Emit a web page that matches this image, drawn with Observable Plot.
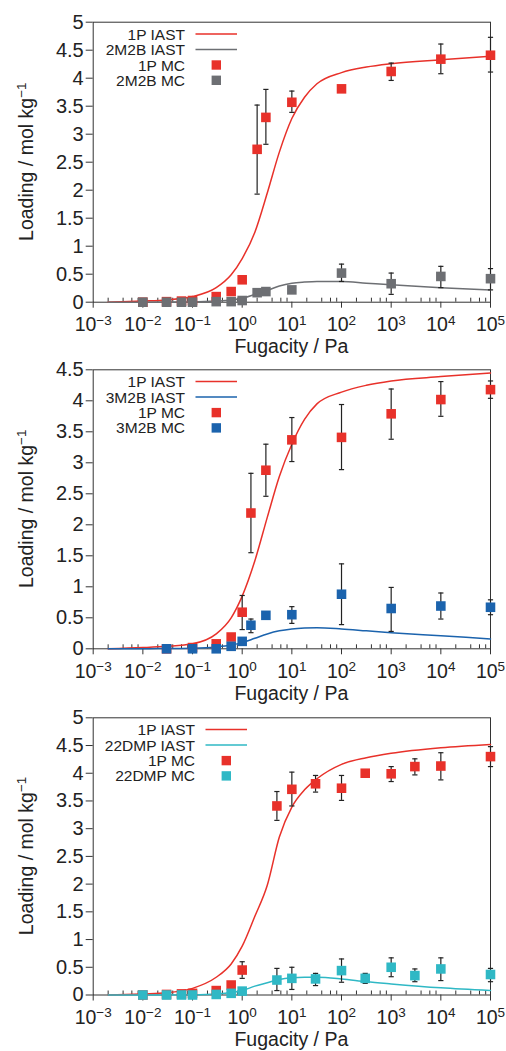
<!DOCTYPE html>
<html>
<head>
<meta charset="utf-8">
<script src="https://cdn.jsdelivr.net/npm/d3@7"></script>
<script src="https://cdn.jsdelivr.net/npm/@observablehq/plot@0.6"></script>
<style>
  html, body { margin: 0; padding: 0; background: #fff; }
  #root { width: 506px; height: 1051px; overflow: hidden; position: relative; }
  #root svg { display: block; overflow: visible; background: transparent; }
</style>
</head>
<body>
<div id="root"></div>
<script>
// ---------------- DATA ----------------
const xMajor = [1e-3, 1e-2, 1e-1, 1e0, 1e1, 1e2, 1e3, 1e4, 1e5];
const minorMultipliers = [2, 4, 6, 8];
const yTicks5 = [0, 0.5, 1, 1.5, 2, 2.5, 3, 3.5, 4, 4.5, 5];
const yTicks45 = [0, 0.5, 1, 1.5, 2, 2.5, 3, 3.5, 4, 4.5];

// IAST curve sample fugacities (Pa)
const xIAST = [0.002, 0.01, 0.03, 0.1, 0.3, 0.6, 1, 1.8, 3.2, 5.6, 10, 18, 32, 100, 316, 1000, 1e4, 1e5];

// Panel 1: 1P / 2M2B
const p1_IAST_1P   = [0.00, 0.02, 0.04, 0.10, 0.26, 0.49, 0.78, 1.25, 1.95, 2.68, 3.28, 3.66, 3.90, 4.10, 4.20, 4.26, 4.33, 4.39];
const p1_IAST_2M2B = [0.00, 0.00, 0.002, 0.005, 0.02, 0.04, 0.07, 0.14, 0.21, 0.29, 0.34, 0.36, 0.37, 0.37, 0.34, 0.31, 0.26, 0.22];
const p1_xMC       = [0.01, 0.03, 0.06, 0.1, 0.3, 0.6, 1, 2, 3, 10, 100, 1000, 1e4, 1e5];
const p1_MC_1P     = [0.00, 0.01, 0.02, 0.03, 0.10, 0.19, 0.40, 2.73, 3.30, 3.57, 3.81, 4.12, 4.34, 4.41];
const p1_MC_2M2B   = [0.00, 0.00, 0.00, 0.00, 0.01, 0.01, 0.03, 0.17, 0.19, 0.22, 0.52, 0.33, 0.46, 0.42];
const p1_err1P_x   = [2, 3, 10, 100, 1000, 1e4, 1e5];
const p1_err1P_lo  = [1.93, 2.82, 3.39, 3.76, 3.96, 4.08, 4.11];
const p1_err1P_hi  = [3.52, 3.80, 3.77, 3.86, 4.27, 4.61, 4.73];
const p1_err2_x    = [100, 1000, 1e4, 1e5];
const p1_err2_lo   = [0.37, 0.14, 0.26, 0.22];
const p1_err2_hi   = [0.68, 0.52, 0.64, 0.60];

// Panel 2: 1P / 3M2B
const p2_IAST_1P   = [0.00, 0.02, 0.04, 0.08, 0.24, 0.50, 0.85, 1.42, 2.12, 2.78, 3.30, 3.70, 3.95, 4.14, 4.25, 4.32, 4.39, 4.45];
const p2_IAST_3M2B = [0.00, 0.00, 0.005, 0.01, 0.03, 0.06, 0.10, 0.17, 0.24, 0.29, 0.32, 0.335, 0.34, 0.32, 0.29, 0.26, 0.21, 0.16];
const p2_xMC       = [0.03, 0.1, 0.3, 0.6, 1, 1.5, 3, 10, 100, 1000, 1e4, 1e5];
const p2_MC_1P     = [0.00, 0.02, 0.08, 0.19, 0.59, 2.19, 2.88, 3.37, 3.41, 3.79, 4.02, 4.18];
const p2_MC_3M2B   = [0.00, 0.00, 0.00, 0.04, 0.12, 0.38, 0.54, 0.55, 0.88, 0.65, 0.69, 0.67];
const p2_err1P_x   = [1, 1.5, 3, 10, 100, 1000, 1e4, 1e5];
const p2_err1P_lo  = [0.31, 1.55, 2.46, 3.02, 2.89, 3.38, 3.75, 4.04];
const p2_err1P_hi  = [0.86, 2.83, 3.30, 3.73, 3.94, 4.19, 4.31, 4.32];
const p2_err2_x    = [1.5, 3, 10, 100, 1000, 1e4, 1e5];
const p2_err2_lo   = [0.26, 0.49, 0.41, 0.39, 0.28, 0.48, 0.55];
const p2_err2_hi   = [0.48, 0.59, 0.68, 1.37, 0.99, 0.90, 0.79];

// Panel 3: 1P / 22DMP
const p3_IAST_1P    = [0.00, 0.02, 0.04, 0.12, 0.32, 0.56, 0.88, 1.42, 1.98, 2.85, 3.39, 3.70, 3.90, 4.16, 4.28, 4.36, 4.46, 4.52];
const p3_IAST_22DMP = [0.00, 0.00, 0.002, 0.005, 0.02, 0.045, 0.08, 0.16, 0.22, 0.28, 0.31, 0.32, 0.32, 0.29, 0.24, 0.20, 0.13, 0.08];
const p3_xMC        = [0.01, 0.03, 0.06, 0.1, 0.3, 0.6, 1, 5, 10, 30, 100, 300, 1000, 3000, 1e4, 1e5];
const p3_MC_1P      = [0.00, 0.01, 0.02, 0.03, 0.08, 0.18, 0.45, 3.41, 3.71, 3.81, 3.73, 4.00, 3.99, 4.12, 4.13, 4.30];
const p3_MC_22DMP   = [0.00, 0.00, 0.00, 0.00, 0.01, 0.03, 0.07, 0.27, 0.30, 0.29, 0.44, 0.30, 0.50, 0.35, 0.47, 0.37];
const p3_err1P_x    = [1, 5, 10, 30, 100, 300, 1000, 3000, 1e4, 1e5];
const p3_err1P_lo   = [0.30, 3.15, 3.41, 3.66, 3.51, 3.96, 3.85, 3.97, 3.88, 4.12];
const p3_err1P_hi   = [0.60, 3.67, 4.02, 3.96, 3.96, 4.04, 4.12, 4.26, 4.37, 4.48];
const p3_err2_x     = [5, 10, 30, 100, 300, 1000, 3000, 1e4, 1e5];
const p3_err2_lo    = [0.08, 0.10, 0.17, 0.23, 0.21, 0.33, 0.24, 0.26, 0.24];
const p3_err2_hi    = [0.48, 0.50, 0.39, 0.65, 0.39, 0.67, 0.47, 0.67, 0.48];

// ---------------- STYLE ----------------
const RED = "#e8312a", GRAY = "#6d6f73", BLUE = "#1b63ad", CYAN = "#2fb8c5", ERR = "#222";
const FONT = "'Liberation Sans', Arial, Helvetica, sans-serif";

const xMinor = [];
for (const d of xMajor.slice(0, -1)) for (const m of minorMultipliers) xMinor.push(d * m);

const pts = (xs, ys) => xs.map((x, i) => ({x, y: ys[i]}));
const errs = (xs, lo, hi) => xs.map((x, i) => ({x, lo: lo[i], hi: hi[i]}));
const capSymbol = { draw(ctx) { ctx.moveTo(-2.6, 0); ctx.lineTo(2.6, 0); } };

function panel(cfg) {
  const ML = 92.7, MR = 16;
  const svg = Plot.plot({
    width: 506, height: cfg.height,
    marginTop: cfg.mt, marginBottom: cfg.mb, marginLeft: ML, marginRight: MR,
    style: {fontFamily: FONT, fontSize: "19.5px", color: "#222", background: "transparent", overflow: "visible"},
    x: {type: "log", domain: [1e-3, 1e5]},
    y: {domain: [0, cfg.ymax]},
    marks: [
      Plot.axisY({ticks: cfg.yTicks, tickSize: 7, tickPadding: 2.5, label: null, stroke: "#333",
                  fontSize: 20, tickFormat: d => String(d)}),
      Plot.axisX({ticks: xMajor, tickSize: 6, tickPadding: 9, label: null, stroke: "#333",
                  tickFormat: d => `10^${Math.round(Math.log10(d))}`}),
      Plot.axisX({ticks: xMinor, tickSize: 4, dy: -4, label: null, stroke: "#333", tickFormat: () => ""}),
      Plot.frame({stroke: "#333", strokeWidth: 1}),
      Plot.line(pts(xIAST, cfg.iastA), {x: "x", y: "y", stroke: RED, strokeWidth: 1.5, curve: "monotone-x"}),
      Plot.line(pts(xIAST, cfg.iastB), {x: "x", y: "y", stroke: cfg.colorB, strokeWidth: 1.5, curve: "monotone-x"}),
      Plot.ruleX(cfg.errA, {x: "x", y1: "lo", y2: "hi", stroke: ERR, strokeWidth: 1.2}),
      Plot.dot(cfg.errA, {x: "x", y: "lo", symbol: capSymbol, r: 3, stroke: ERR, fill: "none", strokeWidth: 1.2}),
      Plot.dot(cfg.errA, {x: "x", y: "hi", symbol: capSymbol, r: 3, stroke: ERR, fill: "none", strokeWidth: 1.2}),
      Plot.dot(cfg.mcA, {x: "x", y: "y", symbol: "square", r: 5.4, fill: RED, stroke: "none"}),
      Plot.ruleX(cfg.errB, {x: "x", y1: "lo", y2: "hi", stroke: ERR, strokeWidth: 1.2}),
      Plot.dot(cfg.errB, {x: "x", y: "lo", symbol: capSymbol, r: 3, stroke: ERR, fill: "none", strokeWidth: 1.2}),
      Plot.dot(cfg.errB, {x: "x", y: "hi", symbol: capSymbol, r: 3, stroke: ERR, fill: "none", strokeWidth: 1.2}),
      Plot.dot(cfg.mcB, {x: "x", y: "y", symbol: "square", r: 5.4, fill: cfg.colorB, stroke: "none"})
    ]
  });

  const s = d3.select(svg);
  s.style("overflow", "visible").style("background", "transparent");
  // superscript exponents on x tick labels
  s.selectAll('g[aria-label="x-axis tick label"] text').each(function () {
    const t = this.textContent;
    if (!t || t.indexOf("^") < 0) return;
    const [base, exp] = t.split("^");
    const el = d3.select(this);
    el.text(base);
    el.append("tspan").attr("dy", "-0.48em").attr("font-size", "13.5px").text(exp.replace("-", "\u2212"));
  });

  const plotTop = cfg.mt, plotBottom = cfg.height - cfg.mb;
  const cx = ML + (506 - ML - MR) / 2;
  // x axis title
  s.append("text").attr("x", cx).attr("y", plotBottom + cfg.titleOffset)
    .attr("text-anchor", "middle").attr("font-family", FONT).attr("font-size", "19.5px").attr("fill", "#222")
    .text("Fugacity / Pa");
  // y axis title
  const yt = s.append("text")
    .attr("transform", `translate(33,${(plotTop + plotBottom) / 2}) rotate(-90)`)
    .attr("text-anchor", "middle").attr("font-family", FONT).attr("font-size", "19.5px").attr("fill", "#222");
  yt.append("tspan").text("Loading / mol kg");
  yt.append("tspan").attr("dy", "-0.5em").attr("font-size", "13.5px").text("\u22121");

  // legend
  const lg = s.append("g").attr("font-family", FONT).attr("font-size", "15.5px").attr("fill", "#222");
  const rows = [12.3, 27.8, 43.3, 58.6];
  const items = [
    {label: `1P IAST`, type: "line", color: RED},
    {label: `${cfg.nameB} IAST`, type: "line", color: cfg.colorB},
    {label: `1P MC`, type: "sq", color: RED},
    {label: `${cfg.nameB} MC`, type: "sq", color: cfg.colorB}
  ];
  items.forEach((it, i) => {
    const y = plotTop + rows[i];
    lg.append("text").attr("x", cfg.legendX).attr("y", y).attr("dy", "0.36em")
      .attr("text-anchor", "end").text(it.label);
    if (it.type === "line") {
      lg.append("line").attr("x1", cfg.legendX + 10.5).attr("x2", cfg.legendX + 52)
        .attr("y1", y).attr("y2", y).attr("stroke", it.color).attr("stroke-width", 1.5);
    } else {
      lg.append("rect").attr("x", cfg.legendX + 31.3 - 4.7).attr("y", y - 4.7)
        .attr("width", 9.4).attr("height", 9.4).attr("fill", it.color);
    }
  });
  return svg;
}

const root = document.getElementById("root");
root.appendChild(panel({
  height: 355, mt: 21.7, mb: 53.3, ymax: 5, yTicks: yTicks5, titleOffset: 51.5,
  iastA: p1_IAST_1P, iastB: p1_IAST_2M2B, colorB: GRAY, nameB: "2M2B",
  mcA: pts(p1_xMC, p1_MC_1P), mcB: pts(p1_xMC, p1_MC_2M2B),
  errA: errs(p1_err1P_x, p1_err1P_lo, p1_err1P_hi), errB: errs(p1_err2_x, p1_err2_lo, p1_err2_hi),
  legendX: 185
}));
root.appendChild(panel({
  height: 348, mt: 14.3, mb: 54.7, ymax: 4.5, yTicks: yTicks45, titleOffset: 51.5,
  iastA: p2_IAST_1P, iastB: p2_IAST_3M2B, colorB: BLUE, nameB: "3M2B",
  mcA: pts(p2_xMC, p2_MC_1P), mcB: pts(p2_xMC, p2_MC_3M2B),
  errA: errs(p2_err1P_x, p2_err1P_lo, p2_err1P_hi), errB: errs(p2_err2_x, p2_err2_lo, p2_err2_hi),
  legendX: 185
}));
root.appendChild(panel({
  height: 348, mt: 14.3, mb: 56.5, ymax: 5, yTicks: yTicks5, titleOffset: 51,
  iastA: p3_IAST_1P, iastB: p3_IAST_22DMP, colorB: CYAN, nameB: "22DMP",
  mcA: pts(p3_xMC, p3_MC_1P), mcB: pts(p3_xMC, p3_MC_22DMP),
  errA: errs(p3_err1P_x, p3_err1P_lo, p3_err1P_hi), errB: errs(p3_err2_x, p3_err2_lo, p3_err2_hi),
  legendX: 195
}));
</script>
</body>
</html>
